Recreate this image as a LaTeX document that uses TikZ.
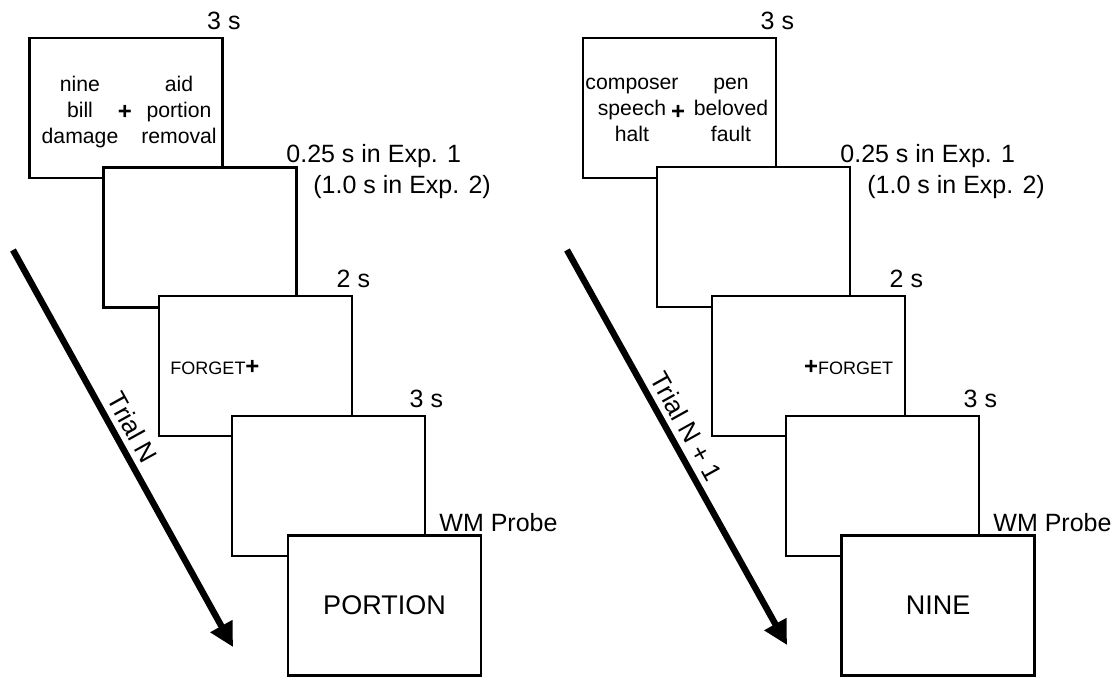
\documentclass[tikz,border=0pt]{standalone}
\usepackage{fontspec}
\setmainfont{Liberation Sans}
\usepackage{tikz}
\usetikzlibrary{positioning,arrows.meta}

\tikzset{
  screen/.style={draw, rectangle, fill=white, line width=1.4pt, minimum width=96.5pt, minimum height=70pt, inner sep=0pt},
  timing/.style={inner sep=1pt, font=\fontsize{12.5}{15}\selectfont},
  words/.style={align=center, inner sep=0pt, font=\fontsize{10.6}{13}\selectfont, execute at begin node=\strut, execute at end node=\strut},
  fix/.style={inner sep=0pt, font=\fontsize{12}{12}\selectfont\bfseries},
  cue/.style={inner sep=0pt, font=\fontsize{9}{10}\selectfont},
  probe/.style={inner sep=0pt, font=\fontsize{13.5}{16}\selectfont},
  trial/.style={line width=3.2pt, -{Triangle[length=12pt,width=12pt]}}
}

\begin{document}
\begin{tikzpicture}[x=0.5pt, y=-0.5pt]
\useasboundingbox (0,0) rectangle (1111,677);

\node[screen] (l1) at (126,108) {};
\node[words] (lw1) at (80,114) {nine\\bill\\damage};
\node[fix] (lp1) at (125,112) {+};
\node[words] (lw2) at (179,114) {aid\\portion\\removal};
\node[screen] (l2) at (200,237.5) {};
\node[screen] (l3) at (255.5,366) {};
\node[cue] (lf) at (215,368) {FORGET{\fontsize{12}{12}\selectfont\bfseries +}};
\node[screen] (l4) at (328.5,486) {};
\node[screen] (l5) at (384.5,605.5) {};
\node[probe] (lq) at (l5.center) {PORTION};
\node[timing, above=2pt of l1.north east] (lt1) {3 s};
\node[timing, anchor=base west] (lt2) at (284,162) {0.25 s in Exp. 1};
\node[timing, anchor=base west] (lt3) at (311,193) {(1.0 s in Exp. 2)};
\node[timing, above=2pt of l3.north east] (lt4) {2 s};
\node[timing, above=2pt of l4.north east] (lt5) {3 s};
\node[timing, anchor=base west] (lt6) at (437,531) {WM Probe};
\coordinate (ls) at (13,250);
\coordinate (le) at (233,647);
\draw[trial] (ls) -- (le) node[timing, pos=0.47, sloped, above=2pt, font=\fontsize{13}{15}\selectfont] (ln) {Trial N};

\node[screen] (r1) at (679.5,108) {};
\node[words] (rw1) at (632,114) {composer\\speech\\halt};
\node[fix] (rp1) at (678,112) {+};
\node[words] (rw2) at (731,114) {pen\\beloved\\fault};
\node[screen] (r2) at (753.5,237) {};
\node[screen] (r3) at (808.5,366) {};
\node[cue] (rf) at (848.5,368) {{\fontsize{12}{12}\selectfont\bfseries +}FORGET};
\node[screen] (r4) at (882.5,486) {};
\node[screen] (r5) at (938,605.5) {};
\node[probe] (rq) at (r5.center) {NINE};
\node[timing, above=2pt of r1.north east] (rt1) {3 s};
\node[timing, anchor=base west] (rt2) at (838,162) {0.25 s in Exp. 1};
\node[timing, anchor=base west] (rt3) at (865,193) {(1.0 s in Exp. 2)};
\node[timing, above=2pt of r3.north east] (rt4) {2 s};
\node[timing, above=2pt of r4.north east] (rt5) {3 s};
\node[timing, anchor=base west] (rt6) at (991,531) {WM Probe};
\coordinate (rs) at (567,250);
\coordinate (re) at (787,645);
\draw[trial] (rs) -- (re) node[timing, pos=0.47, sloped, above=2pt, font=\fontsize{13}{15}\selectfont] (rn) {Trial N + 1};
\end{tikzpicture}
\end{document}
